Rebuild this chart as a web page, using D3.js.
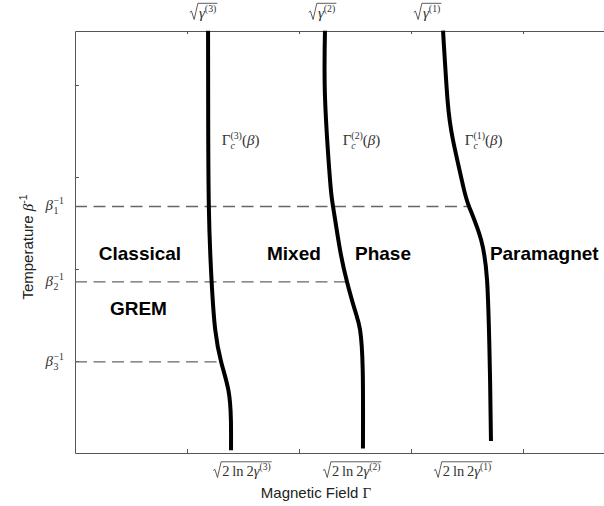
<!DOCTYPE html>
<html>
<head>
<meta charset="utf-8">
<script src="https://cdn.jsdelivr.net/npm/d3@7"></script>
<style>
  body { margin: 0; background: #fff; }
  svg { display: block; }
  text { white-space: pre; }
</style>
</head>
<body>
<svg id="chart"></svg>
<script>
// ---- data (field Γ on x, temperature β^-1 on y) ----
const xTicks = [1, 2, 3, 4];
const yTicks = [1, 2, 3, 4];

// critical lines Γc^(k)(β), sampled top to bottom as [Γ, T]
const curve1 = [[3.286, 4.59], [3.326, 3.84], [3.375, 3.40], [3.464, 2.91], [3.518, 2.68],
                [3.625, 2.32], [3.679, 1.88], [3.696, 1.34], [3.706, 0.80], [3.714, 0.13]];
const curve2 = [[2.232, 4.59], [2.233, 3.84], [2.277, 2.97], [2.304, 2.68], [2.366, 2.21],
                [2.429, 1.86], [2.500, 1.55], [2.545, 1.34], [2.569, 0.90], [2.571, 0.05]];
const curve3 = [[1.188, 4.59], [1.189, 3.84], [1.195, 2.68], [1.220, 1.86], [1.252, 1.34],
                [1.305, 0.99], [1.370, 0.68], [1.392, 0.36], [1.393, 0.03]];
const curves = [curve1, curve2, curve3];
const curveIdx = ['1', '2', '3'];

// β_k^-1 levels and where their dashed lines stop
const betaInv = [2.68, 1.86, 0.99];
const betaIdx = ['1', '2', '3'];
const dashEnds = [3.50, 2.42, 1.30];

// annotation anchors (data units)
const topLabelX = [3.143, 2.205, 1.143];       // √γ^(1), √γ^(2), √γ^(3)
const bottomLabelX = [3.46, 2.47, 1.49];       // √(2ln2 γ^(k))
const gammaLabelX = [3.48, 2.39, 1.31];        // Γc^(k)(β) start
const gammaLabelY = 3.35;
const regionNames = ['Classical', 'GREM', 'Mixed', 'Phase', 'Paramagnet'];
const regionX = [0.58, 0.566, 1.955, 2.75, 4.19];
const regionY = [2.10, 1.50, 2.10, 2.10, 2.10];

// ---- setup ----
const W = 604, H = 506;
const SANS = '"Liberation Sans", Arial, sans-serif';
const SERIF = '"Liberation Serif", "DejaVu Serif", serif';
const MATH = '#333';

const svg = d3.select('#chart').attr('width', W).attr('height', H);
svg.append('rect').attr('width', W).attr('height', H).attr('fill', '#fff');

const x = d3.scaleLinear().domain([0, 5]).range([75, 635]);
const y = d3.scaleLinear().domain([0, 4.587]).range([453, 31]);

// ---- axes box ----
const axisColor = '#555';
function styleAxis(g) {
  g.select('.domain').attr('stroke', axisColor);
  g.selectAll('.tick line').attr('stroke', axisColor);
}
svg.append('g').attr('transform', `translate(0,${y(0)})`)
  .call(d3.axisBottom(x).tickValues(xTicks).tickSize(-4).tickSizeOuter(0).tickFormat(''))
  .call(styleAxis);
svg.append('g').attr('transform', `translate(0,${y.range()[1]})`)
  .call(d3.axisTop(x).tickValues(xTicks).tickSize(-3).tickSizeOuter(0).tickFormat(''))
  .call(styleAxis);
svg.append('g').attr('transform', `translate(${x(0)},0)`)
  .call(d3.axisLeft(y).tickValues(yTicks).tickSize(-4).tickSizeOuter(0).tickFormat(''))
  .call(styleAxis);

// ---- little math typesetter: pieces laid out left to right, scripts can stack ----
function mathText(parent, pieces, size, color) {
  const g = parent.append('g').attr('fill', color);
  let cx = 0, lastStart = 0, barStart = null, barEnd = 0, radX = null;
  pieces.forEach(p => {
    if (p.rad) {
      radX = cx;
      cx += size * 0.62;
      return;
    }
    const start = p.stack ? lastStart : cx + (p.dx || 0);
    const t = g.append('text')
      .attr('x', start).attr('y', p.dy || 0)
      .style('font-family', p.sans ? SANS : SERIF)
      .style('font-size', (size * (p.s || 1)) + 'px')
      .style('font-style', p.it ? 'italic' : 'normal')
      .text(p.t);
    const w = t.node().getComputedTextLength();
    if (p.stack) {
      cx = Math.max(cx, start + w);
    } else {
      lastStart = start;
      cx = start + w;
    }
    if (p.bar) {
      if (barStart === null) barStart = start;
      barEnd = Math.max(barEnd, start + w);
    }
  });
  if (radX !== null) {
    const top = -size * 0.98;
    const r = radX;
    g.append('path')
      .attr('d', `M${r},${-size * 0.38} L${r + size * 0.12},${-size * 0.46} L${r + size * 0.3},${size * 0.1}
                  L${r + size * 0.55},${top} L${barEnd + 1},${top}`)
      .attr('fill', 'none').attr('stroke', color).attr('stroke-width', 0.8);
  }
  return { g, width: cx };
}
function place(info, px, py, anchor) {
  const off = anchor === 'middle' ? -info.width / 2 : anchor === 'end' ? -info.width : 0;
  info.g.attr('transform', `translate(${px + off},${py})`);
}

// ---- dashed β levels ----
svg.append('g').selectAll('line').data(betaInv).join('line')
  .attr('x1', x(0)).attr('x2', (d, i) => x(dashEnds[i]))
  .attr('y1', d => y(d)).attr('y2', d => y(d))
  .attr('stroke', '#666').attr('stroke-width', 1.4)
  .attr('stroke-dasharray', '12,6.5');

// ---- critical curves ----
const line = d3.line().x(d => x(d[0])).y(d => y(d[1])).curve(d3.curveNatural);
svg.append('g').selectAll('path').data(curves).join('path')
  .attr('d', line)
  .attr('fill', 'none').attr('stroke', '#000').attr('stroke-width', 4);

// ---- y tick labels β_k^-1 ----
betaInv.forEach((b, i) => {
  const info = mathText(svg, [
    { t: 'β', it: true },
    { t: betaIdx[i], s: 0.66, dy: 4, dx: 0.5 },
    { t: '−1', s: 0.66, dy: -6, stack: true }
  ], 15, MATH);
  place(info, 64, y(b) + 4, 'end');
});

// ---- curve labels Γc^(k)(β) ----
gammaLabelX.forEach((gx, i) => {
  const info = mathText(svg, [
    { t: 'Γ' },
    { t: 'c', it: true, s: 0.66, dy: 4 },
    { t: `(${curveIdx[i]})`, s: 0.66, dy: -6, stack: true },
    { t: '(' }, { t: 'β', it: true }, { t: ')' }
  ], 15, MATH);
  place(info, x(gx), y(gammaLabelY), 'start');
});

// ---- top labels √γ^(k) ----
topLabelX.forEach((tx, i) => {
  const info = mathText(svg, [
    { rad: true },
    { t: 'γ', it: true, bar: true },
    { t: `(${curveIdx[i]})`, s: 0.66, dy: -6, bar: true }
  ], 15, MATH);
  place(info, x(tx), 18, 'middle');
});

// ---- bottom labels √(2 ln 2 γ^(k)) ----
bottomLabelX.forEach((bx, i) => {
  const info = mathText(svg, [
    { rad: true },
    { t: '2\u2009ln\u20092', bar: true },
    { t: 'γ', it: true, bar: true },
    { t: `(${curveIdx[i]})`, s: 0.66, dy: -6, bar: true }
  ], 14.5, MATH);
  place(info, x(bx), 476, 'middle');
});

// ---- region names ----
svg.append('g').selectAll('text').data(regionNames).join('text')
  .attr('x', (d, i) => x(regionX[i])).attr('y', (d, i) => y(regionY[i]))
  .attr('text-anchor', 'middle')
  .style('font-family', SANS).style('font-weight', 'bold').style('font-size', '19px')
  .attr('fill', '#000')
  .text(d => d);

// ---- axis titles ----
const xt = mathText(svg, [
  { t: 'Magnetic Field ', sans: true },
  { t: 'Γ' }
], 15, '#222');
place(xt, 316, 498, 'middle');

const yt = mathText(svg, [
  { t: 'Temperature ', sans: true },
  { t: 'β', it: true },
  { t: '-1', sans: true, s: 0.7, dy: -6 }
], 15, '#222');
yt.g.attr('transform', `translate(33,${247 + yt.width / 2}) rotate(-90)`);
</script>
</body>
</html>
